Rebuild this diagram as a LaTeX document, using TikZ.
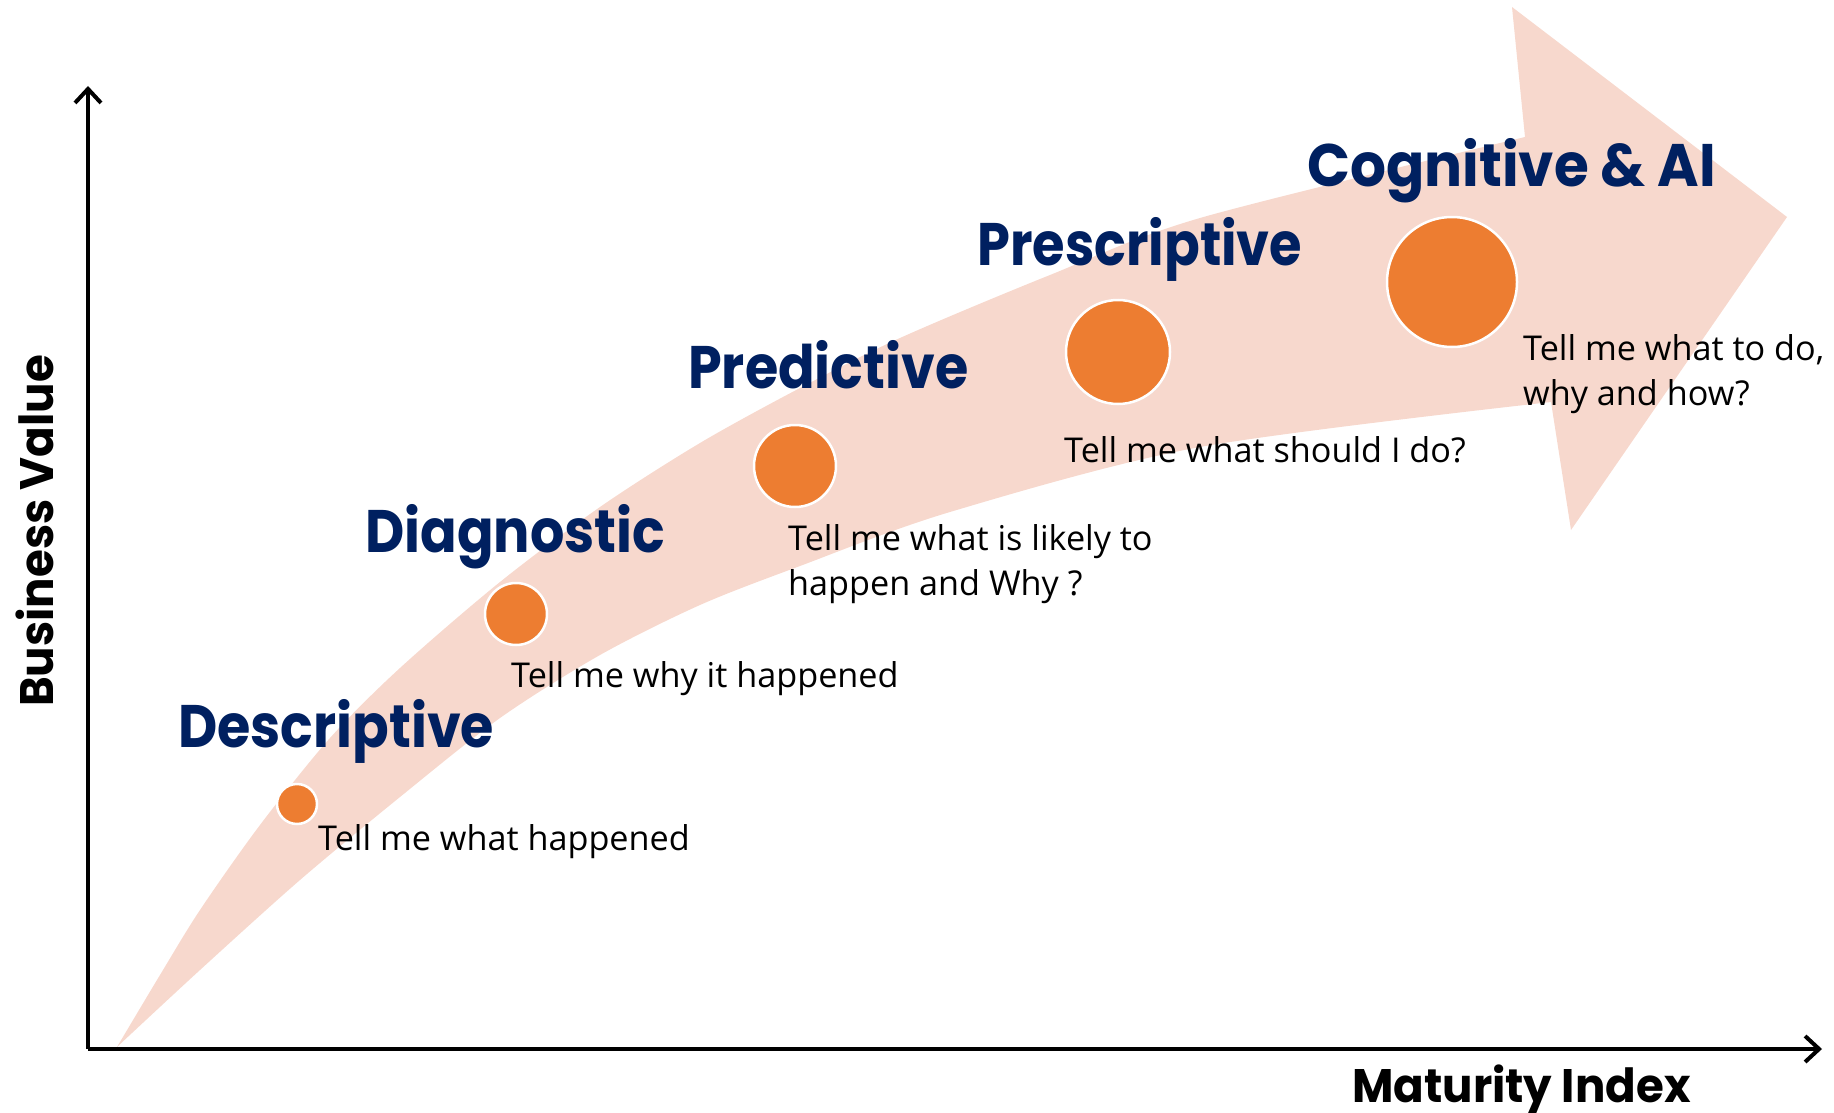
\documentclass[tikz,border=0pt]{standalone}
\usepackage{fontspec}
\setmainfont{Open Sans}
\newfontfamily\headfont[FakeStretch=0.9]{Poppins}
\newfontfamily\axisfont[FakeStretch=0.96]{Poppins}
\usetikzlibrary{arrows.meta}
\definecolor{navy}{HTML}{002060}
\definecolor{bandpink}{HTML}{F7D8CD}
\definecolor{dotorange}{HTML}{ED7D31}
\begin{document}
\begin{tikzpicture}[x=1pt,y=-1pt,
  stage/.style={anchor=base west, inner sep=0pt, text=navy, font=\headfont\bfseries\fontsize{60}{60}\selectfont},
  note/.style={anchor=base west, inner sep=0pt, font=\fontsize{34.2}{45}\selectfont},
  dot/.style={circle, fill=dotorange, draw=white, line width=2.5pt, inner sep=0pt},
  axisline/.style={line width=4pt, -{Straight Barb[length=14pt,width=26pt,line width=4pt]}},
  axislabel/.style={inner sep=0pt, font=\axisfont\bfseries\fontsize{47}{47}\selectfont}]
\useasboundingbox (0,0) rectangle (1834,1113);
% band arrow
\fill[bandpink] plot[smooth, tension=0.5] coordinates {(117,1047) (160,975) (200,910) (260,825) (330,738) (400,668) (500,582) (600,507) (700,443) (800,388) (900,338) (1050,275) (1200,218) (1525,137)}
  -- (1512,7) -- (1787,217) -- (1571,530) -- (1551,402)
  -- plot[smooth, tension=0.5] coordinates {(1551,402) (1200,447) (950,512) (800,566) (700,605) (600,655) (500,718) (400,797) (300,880) (200,970) (117,1047)} -- cycle;
% axes
\coordinate (O) at (88,1049);
\coordinate (ytop) at (88,86);
\coordinate (xend) at (1822,1049);
\draw[axisline] (O) -- (ytop);
\draw[axisline] (O) -- (xend);
\node[axislabel, anchor=base west] (xl) at (1352,1102) {Maturity Index};
\node[axislabel, anchor=base west, rotate=90] (yl) at (53,707) {Business Value};
% dots
\node[dot, minimum size=40pt] (d1) at (297,804) {};
\node[dot, minimum size=62pt] (d2) at (516,614) {};
\node[dot, minimum size=82pt] (d3) at (795,466) {};
\node[dot, minimum size=104pt] (d4) at (1118,352) {};
\node[dot, minimum size=130pt] (d5) at (1452,282) {};
% stage names
\node[stage] (s1) at (178,747) {Descriptive};
\node[stage] (s2) at (365,552) {Diagnostic};
\node[stage] (s3) at (688,388) {Predictive};
\node[stage] (s4) at (977,265) {\scalebox{0.975}[1]{Prescriptive}};
\node[stage] (s5) at (1307,186) {\scalebox{1.045}[1]{Cognitive \& AI}};
% notes
\node[note] (n1) at (318,850) {Tell me what happened};
\node[note] (n2) at (511,687) {Tell me why it happened};
\node[note] (n3) at (788,550) {\vtop{\hbox{Tell me what is likely to}\hbox{happen and Why ?}}};
\node[note] (n4) at (1064,462) {Tell me what should I do?};
\node[note] (n5) at (1523,360) {\vtop{\hbox{Tell me what to do,}\hbox{why and how?}}};
\end{tikzpicture}
\end{document}
